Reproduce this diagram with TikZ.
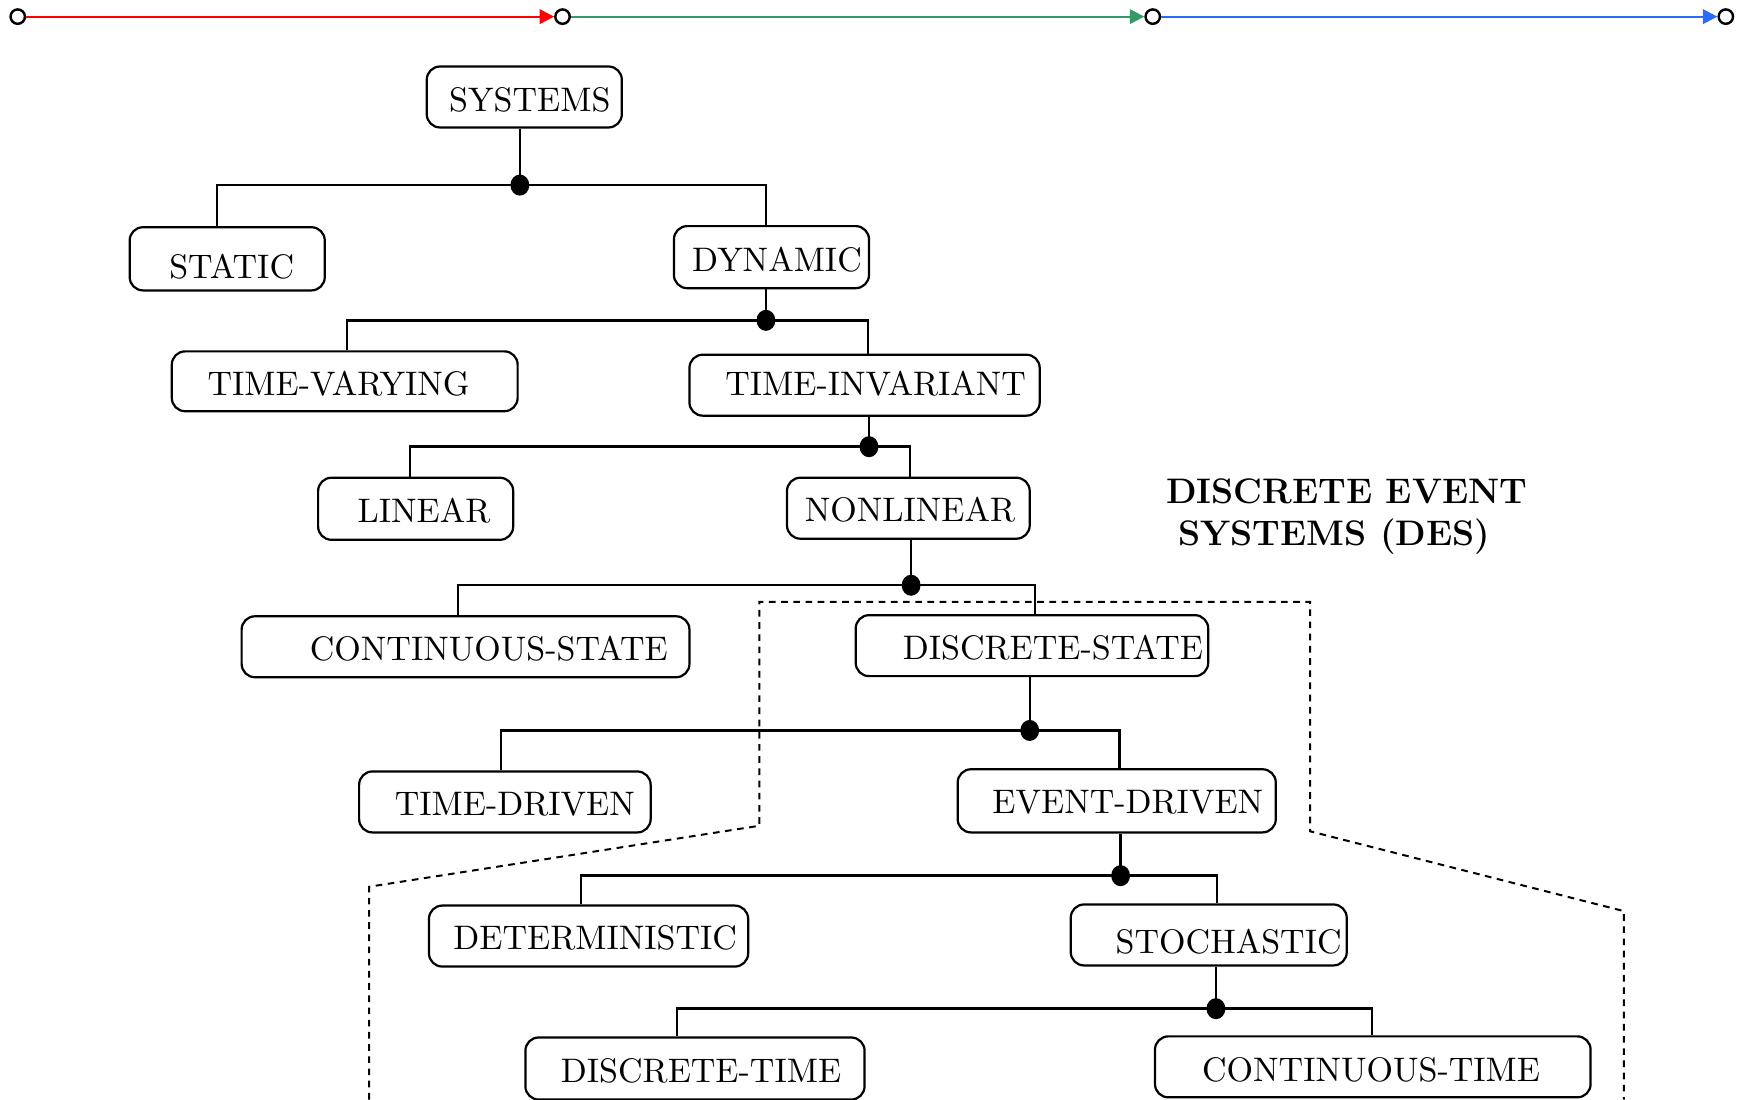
\documentclass[tikz,border=0pt]{standalone}
\usetikzlibrary{arrows.meta,shapes.geometric}
\definecolor{segred}{RGB}{255,0,0}
\definecolor{seggreen}{RGB}{52,153,102}
\definecolor{segblue}{RGB}{45,105,250}
\font\lmten="[lmroman10-regular]:mapping=tex-text" at 30.7pt
\begin{document}
\begin{tikzpicture}[x=1pt,y=-1pt,
  box/.style={draw,line width=2pt,rounded corners=12pt,inner sep=0pt},
  lbl/.style={font=\lmten,inner sep=0pt},
  conn/.style={line width=2.2pt},
  jdot/.style={ellipse,fill=black,inner sep=0pt,minimum width=17pt,minimum height=19pt},
  ring/.style={circle,draw=black,fill=white,line width=2.2pt,minimum size=13pt,inner sep=0pt},
  seg/.style={line width=2pt,-{Triangle[length=13pt,width=13pt]}},
  desline/.style={line width=1.8pt,dash pattern=on 6pt off 5pt}
]
\useasboundingbox (0,0) rectangle (1568,992);
\fill[white] (0,0) rectangle (1568,992);
% top bar
\node[ring] (c1) at (16,15) {};
\node[ring] (c2) at (507.5,15) {};
\node[ring] (c3) at (1040,15) {};
\node[ring] (c4) at (1557,15) {};
\draw[seg,segred] (c1) -- (c2);
\draw[seg,seggreen] (c2) -- (c3);
\draw[seg,segblue] (c3) -- (c4);
% boxes
\node[box,minimum width=176pt,minimum height=55pt,label={[lbl,xshift=5pt,yshift=-2.5pt]center:SYSTEMS}] (sys) at (473,87.5) {};
\node[box,minimum width=176pt,minimum height=57pt,label={[lbl,xshift=4pt,yshift=-7.5pt]center:STATIC}] (static) at (205,233.5) {};
\node[box,minimum width=176pt,minimum height=56pt,label={[lbl,xshift=5pt,yshift=-2pt]center:DYNAMIC}] (dyn) at (696,232) {};
\node[box,minimum width=312pt,minimum height=54pt,label={[lbl,xshift=-5.5pt,yshift=-2pt]center:TIME-VARYING}] (tv) at (311,344) {};
\node[box,minimum width=316pt,minimum height=55pt,label={[lbl,xshift=10pt,yshift=1.5pt]center:TIME-INVARIANT}] (ti) at (780,347.5) {};
\node[box,minimum width=176pt,minimum height=56pt,label={[lbl,xshift=7.5pt,yshift=-2pt]center:LINEAR}] (lin) at (375,459) {};
\node[box,minimum width=219pt,minimum height=55pt,label={[lbl,xshift=1.5pt,yshift=-1.5pt]center:NONLINEAR}] (nonlin) at (819.5,458.5) {};
\node[box,minimum width=404pt,minimum height=55pt,label={[lbl,xshift=21pt,yshift=-1.5pt]center:CONTINUOUS-STATE}] (cs) at (420,583.5) {};
\node[box,minimum width=318pt,minimum height=55pt,label={[lbl,xshift=19pt,yshift=-1.5pt]center:DISCRETE-STATE}] (ds) at (931,582.5) {};
\node[box,minimum width=263pt,minimum height=55pt,label={[lbl,xshift=9pt,yshift=-2.5pt]center:TIME-DRIVEN}] (td) at (455.5,723.5) {};
\node[box,minimum width=287pt,minimum height=57pt,label={[lbl,xshift=10pt,yshift=-1.5pt]center:EVENT-DRIVEN}] (ed) at (1007.5,722.5) {};
\node[box,minimum width=288pt,minimum height=55pt,label={[lbl,xshift=6pt,yshift=-1.5pt]center:DETERMINISTIC}] (det) at (531,844.5) {};
\node[box,minimum width=249pt,minimum height=55pt,label={[lbl,xshift=18pt,yshift=-6.5pt]center:STOCHASTIC}] (sto) at (1090.5,843.5) {};
\node[box,minimum width=306pt,minimum height=56pt,label={[lbl,xshift=5.5pt,yshift=-2pt]center:DISCRETE-TIME}] (dt) at (627,964) {};
\node[box,minimum width=393pt,minimum height=55pt,label={[lbl,xshift=-1.5pt,yshift=-2.5pt]center:CONTINUOUS-TIME}] (ct) at (1238.5,962.5) {};
% junction dots
\node[jdot] (j1) at (469,167) {};
\node[jdot] (j2) at (691,289) {};
\node[jdot] (j3) at (784,403) {};
\node[jdot] (j4) at (822,528) {};
\node[jdot] (j5) at (929,659) {};
\node[jdot] (j6) at (1011,790) {};
\node[jdot] (j7) at (1097,910) {};
% connectors
\draw[conn] (j1 |- sys.south) -- (j1.center);
\draw[conn] (j1.center) -| ([xshift=-9pt]static.north);
\draw[conn] (j1.center) -| ([xshift=-5pt]dyn.north);
\draw[conn] (j2 |- dyn.south) -- (j2.center);
\draw[conn] (j2.center) -| ([xshift=2pt]tv.north);
\draw[conn] (j2.center) -| ([xshift=3pt]ti.north);
\draw[conn] (j3 |- ti.south) -- (j3.center);
\draw[conn] (j3.center) -| ([xshift=-5pt]lin.north);
\draw[conn] (j3.center) -| ([xshift=1.5pt]nonlin.north);
\draw[conn] (j4 |- nonlin.south) -- (j4.center);
\draw[conn] (j4.center) -| ([xshift=-7pt]cs.north);
\draw[conn] (j4.center) -| ([xshift=3pt]ds.north);
\draw[conn] (j5 |- ds.south) -- (j5.center);
\draw[conn] (j5.center) -| ([xshift=-3.5pt]td.north);
\draw[conn] (j5.center) -| ([xshift=2.5pt]ed.north);
\draw[conn] (j6 |- ed.south) -- (j6.center);
\draw[conn] (j6.center) -| ([xshift=-7pt]det.north);
\draw[conn] (j6.center) -| ([xshift=7.5pt]sto.north);
\draw[conn] (j7 |- sto.south) -- (j7.center);
\draw[conn] (j7.center) -| ([xshift=-16pt]dt.north);
\draw[conn] (j7.center) -| ([xshift=-0.5pt]ct.north);
% DES region
\coordinate (p1) at (333,992);
\coordinate (p2) at (333,800);
\coordinate (p3) at (685,745);
\coordinate (p4) at (685,543);
\coordinate (p5) at (1182,543);
\coordinate (p6) at (1182,750);
\coordinate (p7) at (1465,822);
\coordinate (p8) at (1465,992);
\draw[desline] (p1) -- (p2) -- (p3) -- (p4) -- (p5) -- (p6) -- (p7) -- (p8);
\node[anchor=north west,inner sep=0pt,align=left,font=\fontsize{32}{38}\selectfont\bfseries] (des) at (1052,432) {DISCRETE EVENT\\\hspace*{11pt}SYSTEMS (DES)};
\end{tikzpicture}
\end{document}
